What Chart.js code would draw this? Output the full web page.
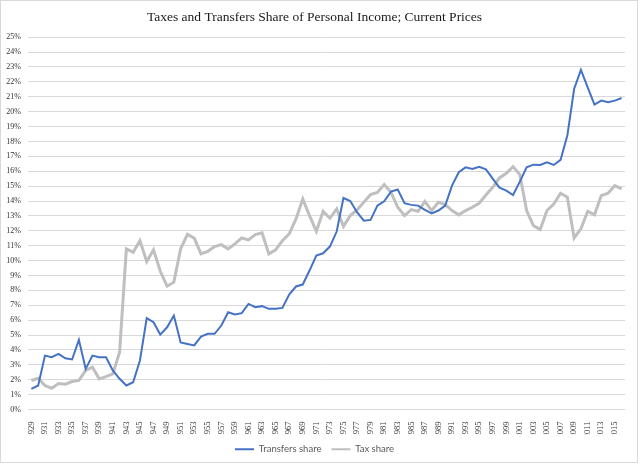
<!DOCTYPE html>
<html>
<head>
<meta charset="utf-8">
<script src="https://cdn.jsdelivr.net/npm/chart.js@4"></script>
<style>
  body { margin: 0; background: #fff; }
  #wrap { width: 640px; height: 464px; }
</style>
</head>
<body>
<div id="wrap"><canvas id="chart" width="640" height="464"></canvas></div>
<script>
const years = [];
for (let y = 1929; y <= 2016; y++) years.push(String(y));

// Transfers share of personal income, %
const transfers = [
    1.39, 1.61, 3.62, 3.51, 3.73, 3.44, 3.36, 4.68, 2.73, 3.62,
    3.51, 3.51, 2.62, 2.06, 1.61, 1.83, 3.29, 6.13, 5.86, 5.03,
    5.52, 6.31, 4.50, 4.40, 4.30, 4.90, 5.08, 5.08, 5.64, 6.53,
    6.38, 6.47, 7.09, 6.87, 6.94, 6.76, 6.76, 6.82, 7.72, 8.26,
    8.39, 9.33, 10.34, 10.49, 10.94, 11.95, 14.20, 14.00, 13.25, 12.68,
    12.73, 13.69, 13.98, 14.63, 14.77, 13.85, 13.74, 13.69, 13.40, 13.17,
    13.36, 13.69, 15.03, 15.93, 16.26, 16.15, 16.30, 16.12, 15.50, 14.90,
    14.70, 14.40, 15.30, 16.26, 16.44, 16.42, 16.60, 16.42, 16.76, 18.39,
    21.52, 22.80, 21.63, 20.47, 20.74, 20.63, 20.74, 20.92
];

// Tax share of personal income, %
const taxes = [
    1.95, 2.10, 1.61, 1.43, 1.74, 1.70, 1.88, 1.95, 2.62, 2.84,
    2.06, 2.21, 2.39, 3.85, 10.79, 10.56, 11.34, 9.93, 10.72, 9.28,
    8.28, 8.55, 10.79, 11.76, 11.51, 10.45, 10.62, 10.94, 11.07, 10.78,
    11.12, 11.52, 11.39, 11.74, 11.86, 10.45, 10.72, 11.34, 11.79, 12.80,
    14.14, 13.02, 11.97, 13.31, 12.84, 13.47, 12.30, 13.02, 13.40, 13.92,
    14.43, 14.58, 15.10, 14.58, 13.58, 13.02, 13.42, 13.31, 13.98, 13.36,
    13.92, 13.76, 13.36, 13.07, 13.36, 13.58, 13.85, 14.40, 14.92, 15.55,
    15.86, 16.31, 15.77, 13.36, 12.35, 12.08, 13.36, 13.80, 14.52, 14.25,
    11.52, 12.13, 13.31, 13.07, 14.36, 14.52, 15.03, 14.81
];

const blue = '#4472C4';
const grey = '#BFBFBF';
const serif = 'Liberation Serif';

// white background and thin chart-area border like the Excel original
const frame = {
    id: 'frame',
    beforeDraw(chart) {
        const ctx = chart.ctx;
        ctx.save();
        ctx.fillStyle = '#fff';
        ctx.fillRect(0, 0, chart.width, chart.height);
        ctx.strokeStyle = '#d9d9d9';
        ctx.lineWidth = 1;
        ctx.strokeRect(0.5, 0.5, chart.width - 3, chart.height - 2);
        ctx.restore();
    }
};

new Chart(document.getElementById('chart').getContext('2d'), {
    type: 'line',
    data: {
        labels: years,
        datasets: [
            {
                label: 'Transfers share',
                data: transfers,
                borderColor: blue,
                backgroundColor: blue,
                borderWidth: 2,
                pointRadius: 0,
                tension: 0
            },
            {
                label: 'Tax share',
                data: taxes,
                borderColor: grey,
                backgroundColor: grey,
                borderWidth: 3,
                pointRadius: 0,
                tension: 0
            }
        ]
    },
    options: {
        responsive: false,
        animation: false,
        layout: { padding: { left: 4, right: 15, top: 0, bottom: 0 } },
        plugins: {
            title: {
                display: true,
                text: 'Taxes and Transfers Share of Personal Income; Current Prices',
                color: '#1a1a1a',
                font: { family: serif, size: 13.5, weight: 'normal' },
                padding: { top: 9, bottom: 12 }
            },
            legend: {
                position: 'bottom',
                labels: {
                    color: '#595959',
                    font: { family: 'Lato', size: 9.5 },
                    boxWidth: 19,
                    boxHeight: 2,
                    padding: 10,
                    generateLabels(chart) {
                        const items = Chart.defaults.plugins.legend.labels.generateLabels(chart);
                        items.forEach(it => { it.lineWidth = 0; });
                        return items;
                    }
                }
            },
            tooltip: { enabled: false }
        },
        scales: {
            x: {
                offset: true,
                grid: { display: false },
                border: { display: false },
                ticks: {
                    autoSkip: false,
                    minRotation: 90,
                    maxRotation: 90,
                    padding: 4,
                    color: '#333',
                    font: { family: serif, size: 8.5 },
                    callback: function (val, i) {
                        return i % 2 === 0 ? this.getLabelForValue(val) : '';
                    }
                },
                afterFit: (scale) => { scale.height = 25; }
            },
            y: {
                min: 0,
                max: 25,
                grid: { color: '#d9d9d9', drawTicks: false },
                border: { display: false },
                ticks: {
                    stepSize: 1,
                    padding: 7,
                    color: '#333',
                    font: { family: serif, size: 8 },
                    callback: (v) => v + '%'
                },
                afterFit: (scale) => { scale.width = 24; }
            }
        }
    },
    plugins: [frame]
});
</script>
</body>
</html>
